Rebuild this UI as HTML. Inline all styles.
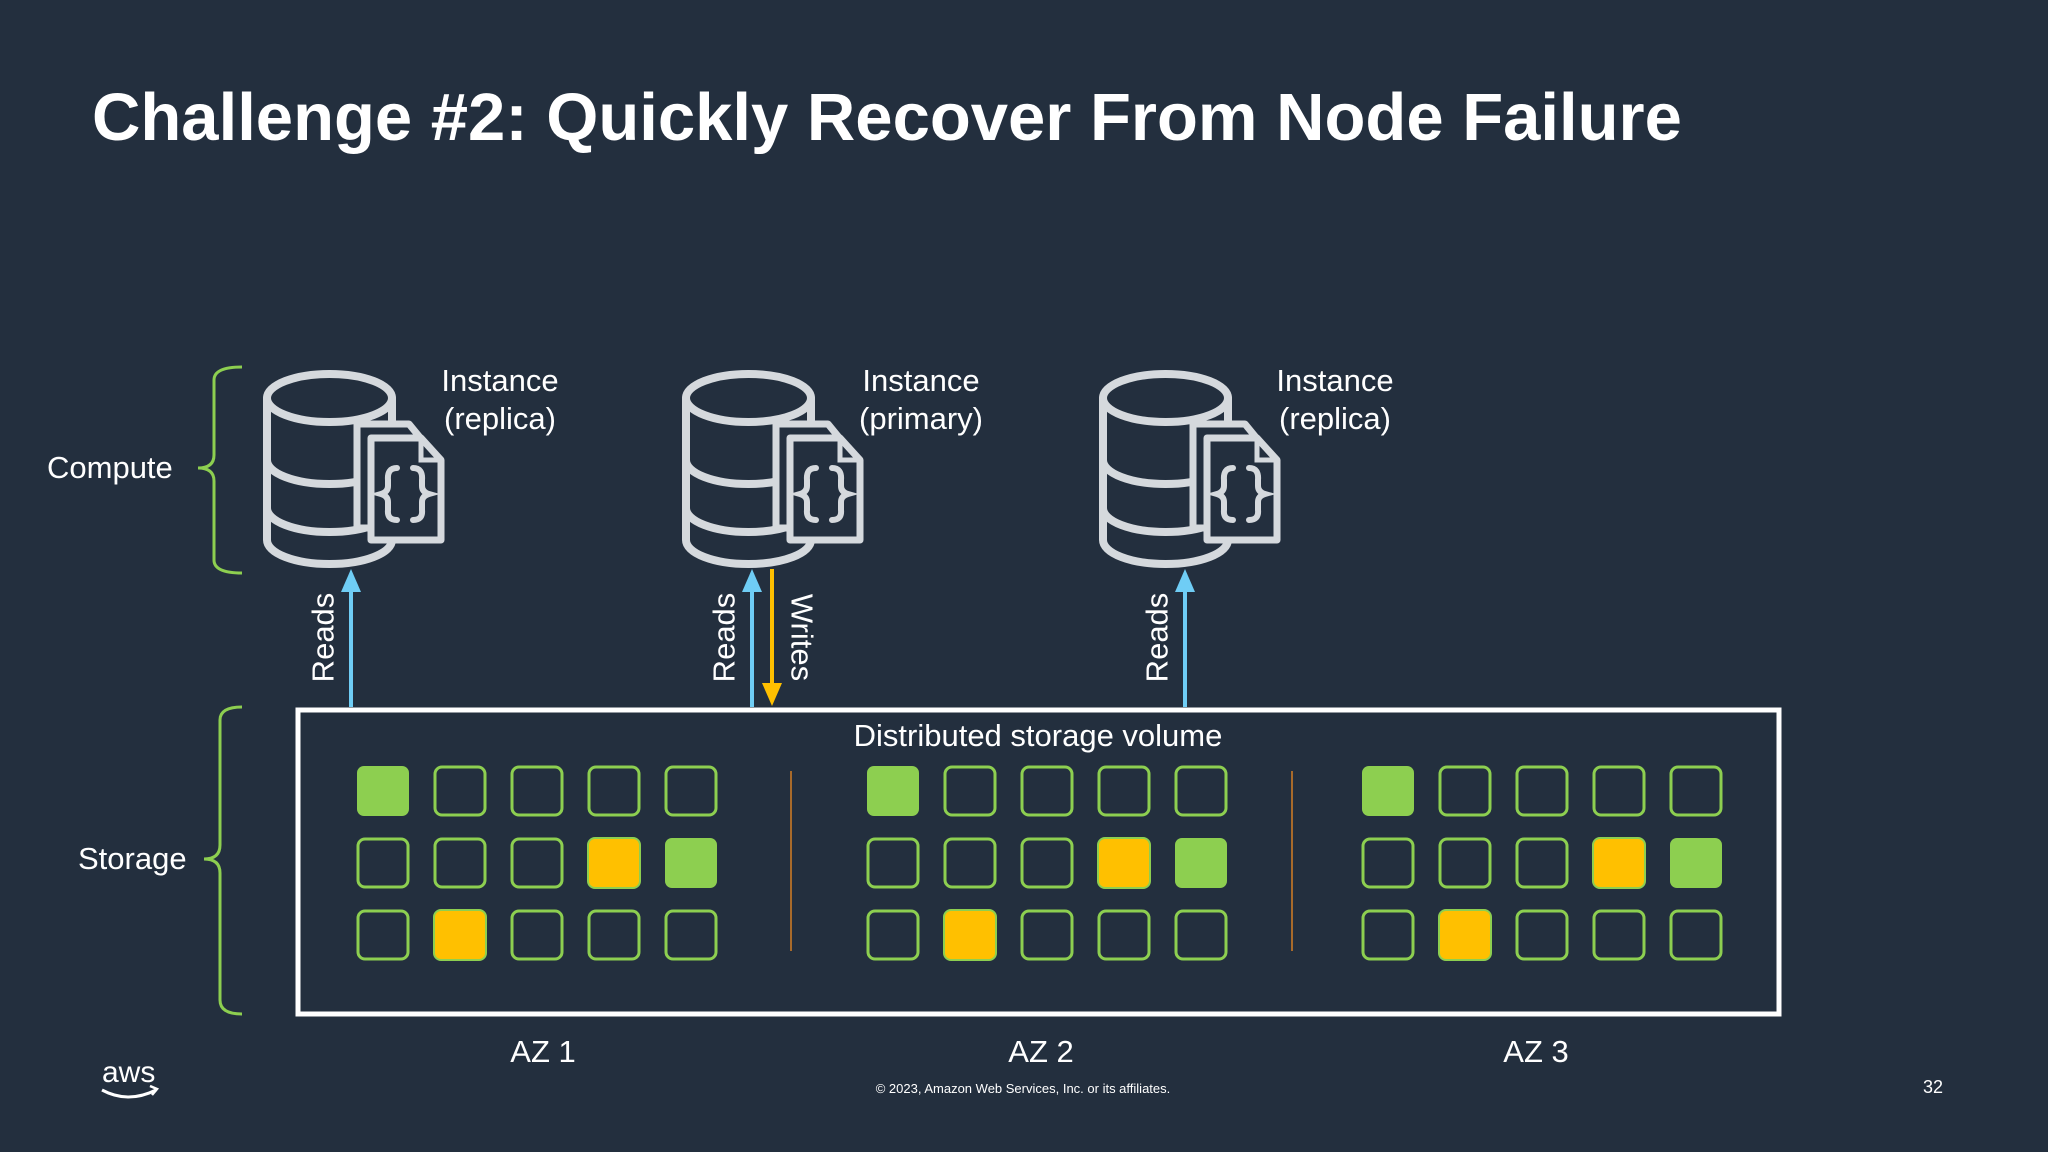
<!DOCTYPE html>
<html><head><meta charset="utf-8"><style>
html,body{margin:0;padding:0;background:#232f3e;width:2048px;height:1152px;overflow:hidden;position:relative}
svg{display:block;position:absolute;left:0;top:0}
.t{position:absolute;font-family:"Liberation Sans","DejaVu Sans",sans-serif;color:#fff;white-space:nowrap;line-height:1}
.c{width:600px;text-align:center}
.f31{font-size:31px}
</style></head><body>
<svg width="2048" height="1152" viewBox="0 0 2048 1152" xmlns="http://www.w3.org/2000/svg">
<rect width="2048" height="1152" fill="#232f3e"/>
<defs>
<g id="db">
  <g fill="none" stroke="#d5d9dd" stroke-width="8" stroke-linecap="round">
    <ellipse cx="68.5" cy="30" rx="62.5" ry="24"/>
    <path d="M6,30 L6,172 A62.5,24 0 0 0 131,172 L131,30"/>
    <path d="M6,92 A62.5,24 0 0 0 131,92"/>
    <path d="M6,140 A62.5,24 0 0 0 131,140"/>
  </g>
  <path d="M96,56 L148,56 L166,78 L166,160 L96,160 Z" fill="#232f3e" stroke="#d5d9dd" stroke-width="7" stroke-linejoin="round"/>
  <path d="M110,70 L160,70 L180,92 L180,172 L110,172 Z" fill="#232f3e" stroke="#d5d9dd" stroke-width="7" stroke-linejoin="round"/>
  <path d="M160,70 L160,92 L180,92" fill="none" stroke="#d5d9dd" stroke-width="5"/>
  <g fill="none" stroke="#d5d9dd" stroke-width="6" stroke-linecap="round">
    <path d="M136,100 Q126,100 127,112 L127,118 Q127,124 120,126 Q127,128 127,134 L127,142 Q126,152 136,152"/>
    <path d="M152,100 Q162,100 161,112 L161,118 Q161,124 168,126 Q161,128 161,134 L161,142 Q162,152 152,152"/>
  </g>
</g>
<g id="sq"><rect x="-25" y="-24" width="50" height="48" rx="7" fill="none" stroke="#8dcf50" stroke-width="3"/></g>
<g id="sg"><rect x="-26" y="-25" width="52" height="50" rx="7" fill="#8dcf50"/></g>
<g id="sy"><rect x="-26" y="-25" width="52" height="50" rx="7" fill="#ffc000" stroke="#8dcf50" stroke-width="2"/></g>
<g id="az">
  <use href="#sg" x="0" y="0"/><use href="#sq" x="77" y="0"/><use href="#sq" x="154" y="0"/><use href="#sq" x="231" y="0"/><use href="#sq" x="308" y="0"/>
  <use href="#sq" x="0" y="72"/><use href="#sq" x="77" y="72"/><use href="#sq" x="154" y="72"/><use href="#sy" x="231" y="72"/><use href="#sg" x="308" y="72"/>
  <use href="#sq" x="0" y="144"/><use href="#sy" x="77" y="144"/><use href="#sq" x="154" y="144"/><use href="#sq" x="231" y="144"/><use href="#sq" x="308" y="144"/>
</g>
</defs>
<use href="#db" x="261" y="368"/>
<use href="#db" x="680" y="368"/>
<use href="#db" x="1097" y="368"/>
<g fill="none" stroke="#8dcf50" stroke-width="3">
<path d="M242,367 Q214,367 214,380 L214,455 Q214,468 198,468 Q214,468 214,481 L214,560 Q214,573 242,573"/>
<path d="M242,707 Q220,707 220,720 L220,845 Q220,859 204,859 Q220,859 220,873 L220,1000 Q220,1014 242,1014"/>
</g>
<g stroke-width="4">
<line x1="351" y1="707" x2="351" y2="585" stroke="#6fcdf5"/>
<line x1="752" y1="707" x2="752" y2="585" stroke="#6fcdf5"/>
<line x1="1185" y1="707" x2="1185" y2="585" stroke="#6fcdf5"/>
<line x1="772" y1="569" x2="772" y2="690" stroke="#ffc000"/>
</g>
<polygon points="351,569 341,592 361,592" fill="#6fcdf5"/>
<polygon points="752,569 742,592 762,592" fill="#6fcdf5"/>
<polygon points="1185,569 1175,592 1195,592" fill="#6fcdf5"/>
<polygon points="772,706 762,683 782,683" fill="#ffc000"/>
<rect x="298" y="710" width="1481" height="304" fill="none" stroke="#fff" stroke-width="5"/>
<use href="#az" x="383" y="791"/>
<use href="#az" x="893" y="791"/>
<use href="#az" x="1388" y="791"/>
<line x1="791" y1="771" x2="791" y2="951" stroke="#a86a2a" stroke-width="2"/>
<line x1="1292" y1="771" x2="1292" y2="951" stroke="#a86a2a" stroke-width="2"/>
<path d="M102,1090 Q128,1104 156,1090" fill="none" stroke="#fff" stroke-width="3"/>
<path d="M150,1086 L157,1089 L152,1095" fill="none" stroke="#fff" stroke-width="2.5"/>
</svg>

<div class="t" style="left:92px;top:84px;font-size:67px;font-weight:bold">Challenge #2: Quickly Recover From Node Failure</div>

<div class="t c f31" style="left:200px;top:365px">Instance</div>
<div class="t c f31" style="left:200px;top:403px">(replica)</div>
<div class="t c f31" style="left:621px;top:365px">Instance</div>
<div class="t c f31" style="left:621px;top:403px">(primary)</div>
<div class="t c f31" style="left:1035px;top:365px">Instance</div>
<div class="t c f31" style="left:1035px;top:403px">(replica)</div>

<div class="t f31" style="left:47px;top:452px">Compute</div>
<div class="t f31" style="left:78px;top:843px">Storage</div>

<div class="t f31" style="left:273px;top:622px;width:100px;text-align:center;transform:rotate(-90deg)">Reads</div>
<div class="t f31" style="left:674px;top:622px;width:100px;text-align:center;transform:rotate(-90deg)">Reads</div>
<div class="t f31" style="left:1107px;top:622px;width:100px;text-align:center;transform:rotate(-90deg)">Reads</div>
<div class="t f31" style="left:752px;top:622px;width:100px;text-align:center;transform:rotate(90deg)">Writes</div>

<div class="t c f31" style="left:738px;top:720px">Distributed storage volume</div>

<div class="t c f31" style="left:243px;top:1036px">AZ 1</div>
<div class="t c f31" style="left:741px;top:1036px">AZ 2</div>
<div class="t c f31" style="left:1236px;top:1036px">AZ 3</div>

<div class="t c" style="left:723px;top:1082px;font-size:13px">© 2023, Amazon Web Services, Inc. or its affiliates.</div>
<div class="t" style="left:1923px;top:1078px;font-size:18px">32</div>
<div class="t" style="left:102px;top:1058px;font-size:30px">aws</div>
</body></html>
